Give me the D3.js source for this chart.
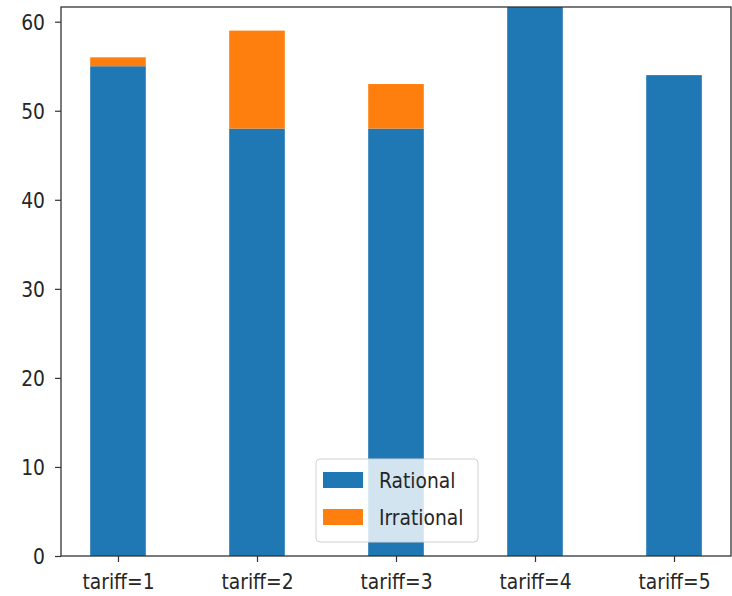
<!DOCTYPE html>
<html>
<head>
<meta charset="utf-8">
<script src="https://cdn.jsdelivr.net/npm/d3@7"></script>
<style>
  html, body { margin: 0; padding: 0; background: #fff; }
  svg text { font-family: "DejaVu Sans", sans-serif; fill: #262626; }
</style>
</head>
<body>
<div id="chart"></div>
<script>
// Chart data
const categories = ['tariff=1', 'tariff=2', 'tariff=3', 'tariff=4', 'tariff=5'];
const rational = [55, 48, 48, 62, 54];
const irrational = [1, 11, 5, 0, 0];
const yTicks = [0, 10, 20, 30, 40, 50, 60];
const seriesNames = ['Rational', 'Irrational'];

const colors = { rational: '#1f77b4', irrational: '#ff7f0e', spine: '#333' };

// Dimensions
const W = 732, H = 596;
const margin = { top: 7, right: 1, bottom: 40, left: 61 };
const width = W - margin.left - margin.right;
const height = H - margin.top - margin.bottom;
const textScale = 0.85; // glyphs in the reference are horizontally squeezed

const svg = d3.select('#chart').append('svg')
  .attr('width', W)
  .attr('height', H);

const g = svg.append('g')
  .attr('transform', `translate(${margin.left},${margin.top})`);

// Scales (x works on category index, like matplotlib's bar positions)
const x = d3.scaleLinear().domain([-0.41, 4.41]).range([0, width]);
const y = d3.scaleLinear().domain([0, 61.65]).range([height, 0]);
const barW = x(0.4) - x(0);

// Clip so the tallest bar is cut at the top spine
svg.append('defs').append('clipPath').attr('id', 'plot-clip')
  .append('rect').attr('width', width).attr('height', height);

const bars = g.append('g').attr('clip-path', 'url(#plot-clip)');

const stacked = categories.map((c, i) => ({
  i, r: rational[i], ir: irrational[i]
}));

// Rational bars
bars.selectAll('.bar-rational')
  .data(stacked)
  .join('rect')
  .attr('class', 'bar-rational')
  .attr('x', d => x(d.i) - barW / 2)
  .attr('width', barW)
  .attr('y', d => y(d.r))
  .attr('height', d => y(0) - y(d.r))
  .attr('fill', colors.rational);

// Irrational bars stacked on top
bars.selectAll('.bar-irrational')
  .data(stacked.filter(d => d.ir > 0))
  .join('rect')
  .attr('class', 'bar-irrational')
  .attr('x', d => x(d.i) - barW / 2)
  .attr('width', barW)
  .attr('y', d => y(d.r + d.ir))
  .attr('height', d => y(d.r) - y(d.r + d.ir))
  .attr('fill', colors.irrational);

// Axes
const yAxis = g.append('g')
  .call(d3.axisLeft(y).tickValues(yTicks).tickSize(6).tickPadding(10).tickFormat(d3.format('d')));
const xAxis = g.append('g')
  .attr('transform', `translate(0,${height})`)
  .call(d3.axisBottom(x).tickValues(d3.range(categories.length)).tickSize(6).tickPadding(5)
    .tickFormat(i => categories[i]));

[xAxis, yAxis].forEach(ax => {
  ax.select('.domain').remove();
  ax.selectAll('line').attr('stroke', colors.spine).attr('stroke-width', 1.2);
  ax.selectAll('text')
    .attr('font-size', 22)
    .attr('fill', '#262626')
    .style('font-family', '"DejaVu Sans", sans-serif');
});

// Squeeze tick labels horizontally around their anchor
yAxis.selectAll('.tick text')
  .attr('transform', `translate(-16,0) scale(${textScale},1) translate(16,0)`)
  .attr('dy', '0.35em');
xAxis.selectAll('.tick text')
  .attr('transform', `scale(${textScale},1)`)
  .attr('dy', '1.0em');

// Spines
g.append('rect')
  .attr('width', width)
  .attr('height', height)
  .attr('fill', 'none')
  .attr('stroke', colors.spine)
  .attr('stroke-width', 1.3);

// Legend
const legend = g.append('g')
  .attr('transform', `translate(${316 - margin.left},${459 - margin.top})`);

legend.append('rect')
  .attr('width', 162)
  .attr('height', 83)
  .attr('rx', 4)
  .attr('fill', 'rgba(255,255,255,0.8)')
  .attr('stroke', '#d0d0d0');

seriesNames.forEach((name, k) => {
  const row = legend.append('g').attr('transform', `translate(0,${13 + k * 37})`);
  row.append('rect')
    .attr('x', 7)
    .attr('width', 40)
    .attr('height', 16)
    .attr('fill', k === 0 ? colors.rational : colors.irrational);
  row.append('text')
    .attr('transform', `translate(63,8) scale(${textScale},1)`)
    .attr('dy', '0.35em')
    .attr('font-size', 22)
    .text(name);
});
</script>
</body>
</html>
